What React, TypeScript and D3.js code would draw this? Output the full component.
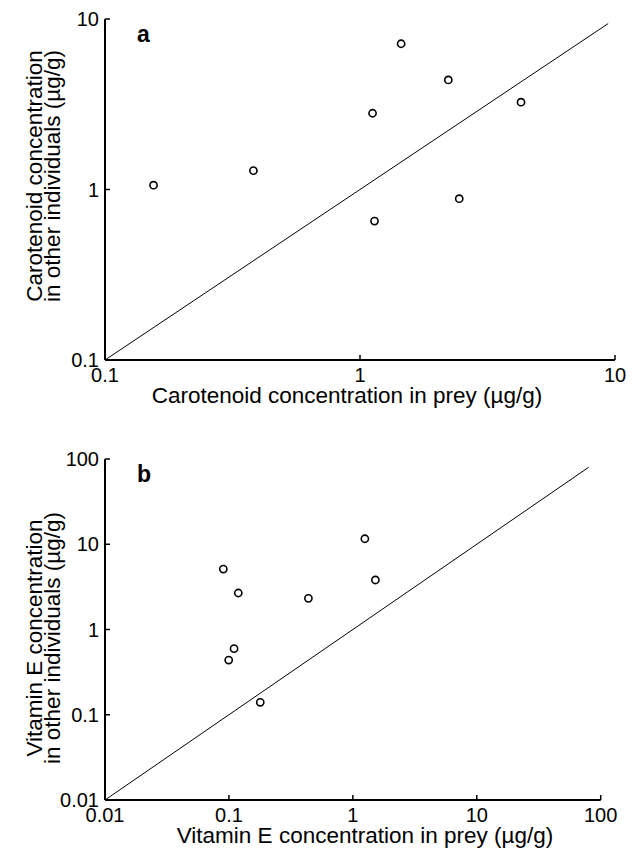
import React from "react";
import * as d3 from "d3";

// Panel a: carotenoids
const carotenoidPrey = [0.155, 0.382, 1.45, 2.22, 1.12, 4.28, 2.45, 1.14];
const carotenoidOther = [1.06, 1.29, 7.16, 4.39, 2.8, 3.25, 0.883, 0.653];
const carotenoidTicks = [0.1, 1, 10];
const carotenoidLine = [0.1, 9.4];

// Panel b: vitamin E
const vitEPrey = [0.0901, 0.119, 0.438, 0.11, 0.0996, 0.179, 1.25, 1.52];
const vitEOther = [5.12, 2.68, 2.32, 0.596, 0.438, 0.14, 11.6, 3.81];
const vitETicks = [0.01, 0.1, 1, 10, 100];
const vitELine = [0.01, 80];

const FONT = "'Liberation Sans', Arial, Helvetica, sans-serif";

type PanelProps = {
  xs: number[];
  ys: number[];
  ticks: number[];
  line: number[];
  x0: number;
  x1: number;
  y0: number;
  y1: number;
  letter: string;
  xTitle: string;
  xTitleCenter: number;
  yTitleCenter: number;
  yTitle1: string;
  yTitle2: string;
};

function Panel(p: PanelProps) {
  const dom = [p.ticks[0], p.ticks[p.ticks.length - 1]];
  const x = d3.scaleLog().domain(dom).range([p.x0, p.x1]);
  const y = d3.scaleLog().domain(dom).range([p.y0, p.y1]);
  const fmt = (v: number) => String(v);
  const tickLen = 5;
  const lineGen = d3
    .line<number>()
    .x((d) => x(d))
    .y((d) => y(d));
  return (
    <g fontFamily={FONT} fill="#000">
      {/* diagonal */}
      <path d={lineGen(p.line) || ""} stroke="#000" strokeWidth={1} fill="none" />
      {/* axes */}
      <line x1={p.x0} x2={p.x1} y1={p.y0} y2={p.y0} stroke="#000" strokeWidth={2} />
      <line x1={p.x0} x2={p.x0} y1={p.y0} y2={p.y1} stroke="#000" strokeWidth={2} />
      {p.ticks.map((t) => (
        <g key={"x" + t}>
          <line x1={x(t)} x2={x(t)} y1={p.y0} y2={p.y0 - tickLen} stroke="#000" strokeWidth={1.5} />
          <text x={x(t)} y={p.y0 + 22} textAnchor="middle" fontSize={20}>
            {fmt(t)}
          </text>
        </g>
      ))}
      {p.ticks.map((t) => (
        <g key={"y" + t}>
          <line x1={p.x0} x2={p.x0 + tickLen} y1={y(t)} y2={y(t)} stroke="#000" strokeWidth={1.5} />
          <text x={p.x0 - 6} y={y(t) + 7} textAnchor="end" fontSize={20}>
            {fmt(t)}
          </text>
        </g>
      ))}
      {p.xs.map((v, i) => (
        <circle key={i} cx={x(v)} cy={y(p.ys[i])} r={3.6} fill="#fff" stroke="#000" strokeWidth={1.6} />
      ))}
      <text x={p.x0 + 32} y={p.y1 + 23} fontSize={23} fontWeight="bold">
        {p.letter}
      </text>
      <text x={p.xTitleCenter} y={p.y0 + 43} textAnchor="middle" fontSize={22.5}>
        {p.xTitle}
      </text>
      <g transform={`translate(42,${p.yTitleCenter}) rotate(-90)`}>
        <text x={0} y={0} textAnchor="middle" fontSize={22.5}>
          {p.yTitle1}
        </text>
        <text x={0} y={17.5} textAnchor="middle" fontSize={22.5}>
          {p.yTitle2}
        </text>
      </g>
    </g>
  );
}

export default function App() {
  return (
    <svg
      width={635}
      height={862}
      style={{ position: "absolute", left: 0, top: 0, display: "block", background: "#fff" }}
    >
      <rect width={635} height={862} fill="#fff" />
      <Panel
        xs={carotenoidPrey}
        ys={carotenoidOther}
        ticks={carotenoidTicks}
        line={carotenoidLine}
        x0={105}
        x1={615}
        y0={360}
        y1={19}
        letter="a"
        xTitle="Carotenoid concentration in prey (µg/g)"
        xTitleCenter={347}
        yTitleCenter={176}
        yTitle1="Carotenoid concentration"
        yTitle2="in other individuals (µg/g)"
      />
      <Panel
        xs={vitEPrey}
        ys={vitEOther}
        ticks={vitETicks}
        line={vitELine}
        x0={105}
        x1={600.7}
        y0={800}
        y1={459}
        letter="b"
        xTitle="Vitamin E concentration in prey (µg/g)"
        xTitleCenter={365}
        yTitleCenter={638}
        yTitle1="Vitamin E concentration"
        yTitle2="in other individuals (µg/g)"
      />
    </svg>
  );
}
